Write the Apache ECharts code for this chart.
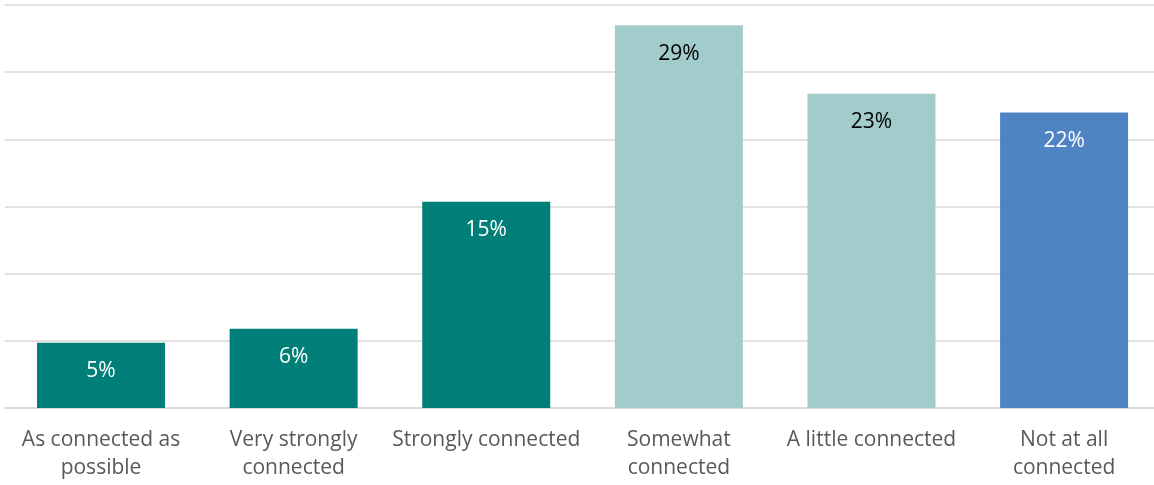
<!DOCTYPE html>
<html>
<head>
<meta charset="utf-8">
<script src="https://cdn.jsdelivr.net/npm/echarts@6/dist/echarts.min.js"></script>
<style>html,body{margin:0;padding:0;background:#fff;overflow:hidden;width:1154px;height:485px}#c{width:1162px;height:485px}</style>
</head>
<body>
<div id="c"></div>
<script>
const categories = ["As connected as\npossible", "Very strongly\nconnected", "Strongly connected", "Somewhat\nconnected", "A little connected", "Not at all\nconnected"];
const values = [4.85, 5.9, 15.35, 28.5, 23.4, 22.0];
const valueLabels = ["5%", "6%", "15%", "29%", "23%", "22%"];
const barColors = ["#007F79", "#007F79", "#007F79", "#A2CBCB", "#A2CBCB", "#4E84C4"];
const labelColors = ["#ffffff", "#ffffff", "#ffffff", "#000000", "#000000", "#ffffff"];

const chart = echarts.init(document.getElementById('c'));
chart.setOption({
  animation: false,
  grid: { left: 4.7, right: 1.6, top: 5, bottom: 77, containLabel: false },
  xAxis: {
    type: 'category',
    data: categories,
    axisLine: { show: true, lineStyle: { color: '#d9d9d9', width: 1.5 } },
    axisTick: { show: false },
    axisLabel: { color: '#595959', fontFamily: 'Open Sans', fontSize: 21, lineHeight: 28, margin: 18, interval: 0 }
  },
  yAxis: {
    type: 'value', min: 0, max: 30, interval: 5,
    axisLabel: { show: false },
    axisLine: { show: false }, axisTick: { show: false },
    splitLine: { lineStyle: { color: '#d9d9d9', width: 1.5 } }
  },
  series: [{
    type: 'bar',
    barWidth: 128,
    data: values.map((v, i) => ({
      value: v,
      itemStyle: { color: barColors[i] },
      label: { color: labelColors[i] }
    })),
    label: {
      show: true, position: 'insideTop', distance: 18,
      fontFamily: 'Open Sans', fontSize: 21,
      formatter: p => valueLabels[p.dataIndex]
    }
  }]
});
</script>
</body>
</html>
